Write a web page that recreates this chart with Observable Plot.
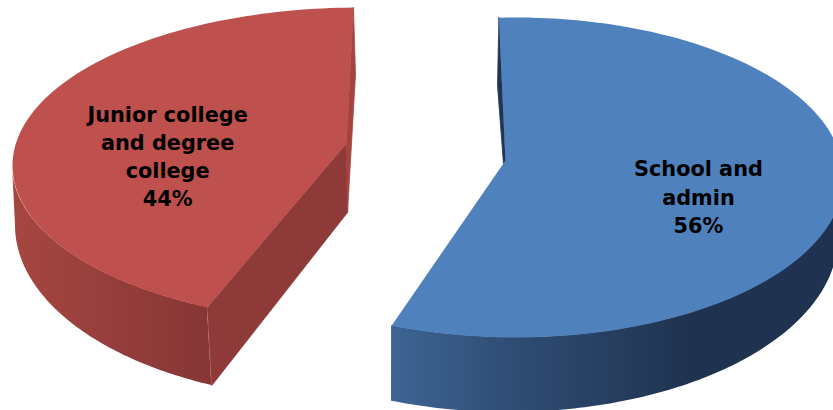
<!DOCTYPE html>
<html>
<head>
<meta charset="utf-8">
<script src="https://cdn.jsdelivr.net/npm/d3@7"></script>
<script src="https://cdn.jsdelivr.net/npm/@observablehq/plot@0.6"></script>
<style>
  html, body { margin: 0; padding: 0; background: #fff; }
  svg { display: block; }
</style>
</head>
<body>
<div id="chart"></div>
<script>
// Share of the workforce by sector
const categories = ["School and\nadmin", "Junior college\nand degree\ncollege"];
const shares = [56, 44];

// Exploded, tilted pie: each slice has its own top and bottom rims (ellipses),
// an apex and a small angular correction for the perspective of the view.
const slices = [
  {
    top: {cx: 515, cy: 177, rx: 328, ry: 160},
    base: {cx: 508, cy: 237, rx: 330, ry: 175},
    apex: [505, 160], apexBase: [503, 164], rimBase: [497, 85],
    rot: -2.9, stretch: 205.1 / 201.6, baseTurn: -1.44, wallEnd: 90, corner: "t1",
    face: "#4f81bd", wall: "url(#wall-blue)", cut: null, back: "#1f3552",
    labelAngle: 101.4, labelRadius: 0.569
  },
  {
    top: {cx: 359, cy: 165, rx: 347, ry: 158},
    base: {cx: 345, cy: 225, rx: 330, ry: 175},
    apex: [346, 143], apexBase: [347, 212], rimBase: [355, 74],
    rot: 206 - 201.6 * 153 / 158.4, stretch: 153 / 158.4, baseTurn: -2.1, wallEnd: 270, corner: "t0",
    face: "#be504d", wall: "url(#wall-red)", cut: "#8e3a38", back: "#a5433f",
    labelAngle: -83.1, labelRadius: 0.557
  }
];

const rad = Math.PI / 180;
const onRim = (e, t) => [e.cx + e.rx * Math.sin(t * rad), e.cy - e.ry * Math.cos(t * rad)];

// Turn the shares into start and end angles, clockwise from twelve o'clock
let turned = 0;
const wedges = shares.map((share, i) => {
  const s = slices[i];
  const a0 = turned;
  const a1 = (turned += share * 3.6);
  return {...s, category: categories[i], share, t0: s.rot + a0 * s.stretch, t1: s.rot + a1 * s.stretch};
});

const steps = (a, b, n = 120) => d3.range(n + 1).map((k) => a + ((b - a) * k) / n);

// Polygons for the top faces
const faces = wedges.flatMap((w, i) => [
  {i, x: w.apex[0], y: w.apex[1]},
  ...steps(w.t0, w.t1).map((t) => {
    const [x, y] = onRim(w.top, t);
    return {i, x, y};
  })
]);

// Outer walls: strips between the top rim and the base rim
const walls = wedges.flatMap((w, i) =>
  steps(w[w.corner], w.wallEnd).map((t, k, all) => {
    const tBase = t + w.baseTurn * (1 - k / (all.length - 1));
    const [x1, y1] = onRim(w.top, t);
    const [x2, y2] = onRim(w.base, tBase);
    return {i, x1, y1, x2, y2};
  })
);

// Flat cut faces of each slice that run from the apex down to the base
const cuts = wedges.flatMap((w, i) => {
  const corner = w[w.corner];
  const rimEnd = w.corner === "t1" ? w.t0 : w.t1;
  const front = [w.apex, onRim(w.top, corner), onRim(w.base, corner + w.baseTurn), w.apexBase];
  const rear = [onRim(w.top, rimEnd), w.rimBase, w.apexBase, w.apex];
  return [
    ...(w.cut ? front.map(([x, y]) => ({key: `front${i}`, fill: w.cut, x, y})) : []),
    ...rear.map(([x, y]) => ({key: `rear${i}`, fill: w.back, x, y}))
  ];
});

const labels = wedges.map((w) => {
  const [x, y] = onRim({...w.top, rx: w.top.rx * w.labelRadius, ry: w.top.ry * w.labelRadius}, w.labelAngle);
  return {x, y, text: `${w.category}\n${w.share}%`};
});

// Shaded gradients for the curved walls
const gradient = (id, x1, x2, stops) => {
  const g = d3.create("svg:linearGradient")
    .attr("id", id).attr("gradientUnits", "userSpaceOnUse")
    .attr("x1", x1).attr("x2", x2).attr("y1", 0).attr("y2", 0);
  stops.forEach(([o, c]) => g.append("stop").attr("offset", o).attr("stop-color", c));
  return g.node();
};

const chart = Plot.plot({
  width: 833,
  height: 410,
  margin: 0,
  x: {domain: [0, 833], range: [0, 833], axis: null},
  y: {domain: [0, 410], range: [0, 410], axis: null},
  style: {background: "#fff"},
  marks: [
    () => {
      const defs = d3.create("svg:defs");
      defs.append(() => gradient("wall-blue", 391, 690, [[0, "#3e6594"], [0.4, "#2f4d74"], [1, "#1f3350"]]));
      defs.append(() => gradient("wall-red", 15, 211, [[0, "#a64641"], [0.5, "#953e3b"], [1, "#863635"]]));
      return defs.node();
    },
    ...wedges.map((w, i) =>
      Plot.area(walls.filter((d) => d.i === i), {x1: "x1", y1: "y1", x2: "x2", y2: "y2", fill: w.wall})
    ),
    Plot.line(cuts, {
      x: "x", y: "y", z: "key", fill: "fill", stroke: "fill", strokeWidth: 0.8, curve: "linear-closed"
    }),
    ...wedges.map((w, i) =>
      Plot.line(faces.filter((d) => d.i === i), {x: "x", y: "y", fill: w.face, stroke: null, curve: "linear-closed"})
    ),
    Plot.text(labels, {
      x: "x", y: "y", text: "text",
      fontFamily: "DejaVu Sans", fontWeight: "bold", fontSize: 20.8, lineHeight: 1.36,
      fill: "#000", textAnchor: "middle", lineAnchor: "middle"
    })
  ]
});
document.getElementById("chart").append(chart);
</script>
</body>
</html>
